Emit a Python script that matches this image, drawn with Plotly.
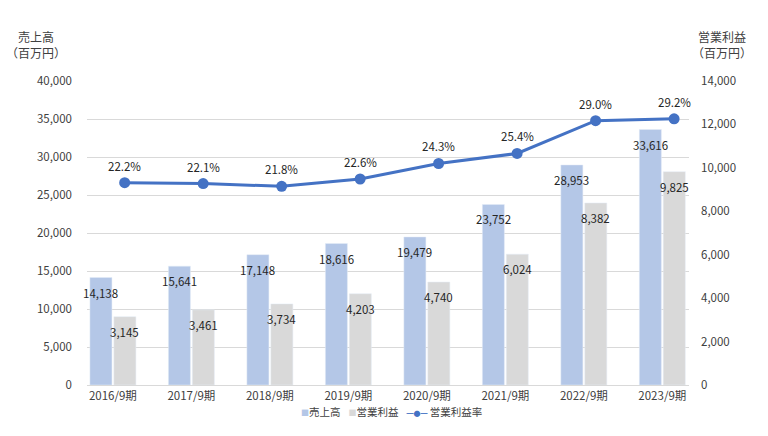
import plotly.graph_objects as go

categories = ["2016/9期", "2017/9期", "2018/9期", "2019/9期", "2020/9期", "2021/9期", "2022/9期", "2023/9期"]
sales = [14138, 15641, 17148, 18616, 19479, 23752, 28953, 33616]
op_profit = [3145, 3461, 3734, 4203, 4740, 6024, 8382, 9825]
op_margin = [22.2, 22.1, 21.8, 22.6, 24.3, 25.4, 29.0, 29.2]

left_ticks = list(range(0, 40001, 5000))
right_ticks = list(range(0, 14001, 2000))

FONT = "Noto Sans CJK JP"
TXT = "#404040"
LBL = "#262626"
SALES_C = "#B4C7E7"
PROFIT_C = "#D9D9D9"
LINE_C = "#4472C4"

fig = go.Figure()
fig.add_trace(go.Bar(name="売上高", x=categories, y=sales, marker_color=SALES_C,
                     offsetgroup="s", xaxis="x", yaxis="y"))
fig.add_trace(go.Bar(name="営業利益", x=categories, y=op_profit, marker_color=PROFIT_C,
                     offsetgroup="p", xaxis="x", yaxis="y2"))
fig.add_trace(go.Scatter(name="営業利益率", x=categories, y=op_margin, mode="lines+markers",
                         line=dict(color=LINE_C, width=3), marker=dict(size=11, color=LINE_C),
                         xaxis="x2", yaxis="y3"))

ann = []
for c, v in zip(categories, sales):
    ann.append(dict(x=c, y=v, xref="x", yref="y", text=f"{v:,}", showarrow=False,
                    xshift=-12, yshift=-15, font=dict(size=11.5, color=LBL, family=FONT)))
for c, v in zip(categories, op_profit):
    ann.append(dict(x=c, y=v, xref="x", yref="y2", text=f"{v:,}", showarrow=False,
                    xshift=12, yshift=-15, font=dict(size=11.5, color=LBL, family=FONT)))
for c, v in zip(categories, op_margin):
    ann.append(dict(x=c, y=v, xref="x2", yref="y3", text=f"{v:.1f}%", showarrow=False,
                    yshift=17, font=dict(size=11.5, color=LBL, family=FONT)))
ann.append(dict(x=-0.085, y=1.18, xref="paper", yref="paper", text="売上高<br>（百万円）",
                showarrow=False, yanchor="top", xanchor="center",
                font=dict(size=12, color=TXT, family=FONT)))
ann.append(dict(x=1.055, y=1.18, xref="paper", yref="paper", text="営業利益<br>（百万円）",
                showarrow=False, yanchor="top", xanchor="center",
                font=dict(size=12, color=TXT, family=FONT)))
legend_text = (f'<span style="font-size:8px;color:{SALES_C}">■</span>売上高'
               f'<span style="font-size:8px">　</span>'
               f'<span style="font-size:8px;color:{PROFIT_C}">■</span>営業利益'
               f'<span style="font-size:8px">　</span>'
               f'<span style="font-size:7px;color:{LINE_C}">━●━</span> 営業利益率')
ann.append(dict(x=0.506, y=-0.088, xref="paper", yref="paper", text=legend_text,
                showarrow=False, yanchor="middle", xanchor="center",
                font=dict(size=10.5, color=TXT, family=FONT)))

fig.update_layout(
    width=768, height=436,
    margin=dict(l=87, r=79, t=81, b=51, autoexpand=False),
    paper_bgcolor="white", plot_bgcolor="white",
    font=dict(family=FONT, size=11.5, color=TXT),
    barmode="group", bargap=0.39, bargroupgap=0.08,
    showlegend=False,
    annotations=ann,
    xaxis=dict(type="category", range=[-0.33, 7.34], showgrid=False, showline=True,
               linecolor="#D9D9D9", linewidth=1, ticks="", tickfont=dict(size=11.5)),
    xaxis2=dict(type="category", overlaying="x", range=[-0.48, 7.19], visible=False),
    yaxis=dict(range=[0, 40000], tickvals=left_ticks, tickformat=",", showgrid=True,
               gridcolor="#D9D9D9", zeroline=False, ticks="", ticklabelstandoff=14),
    yaxis2=dict(range=[0, 14000], tickvals=right_ticks, tickformat=",", overlaying="y",
                side="right", showgrid=False, zeroline=False, ticks="", ticklabelstandoff=11),
    yaxis3=dict(range=[0, 33.35], overlaying="y", visible=False),
)

fig.write_html("out.html")
